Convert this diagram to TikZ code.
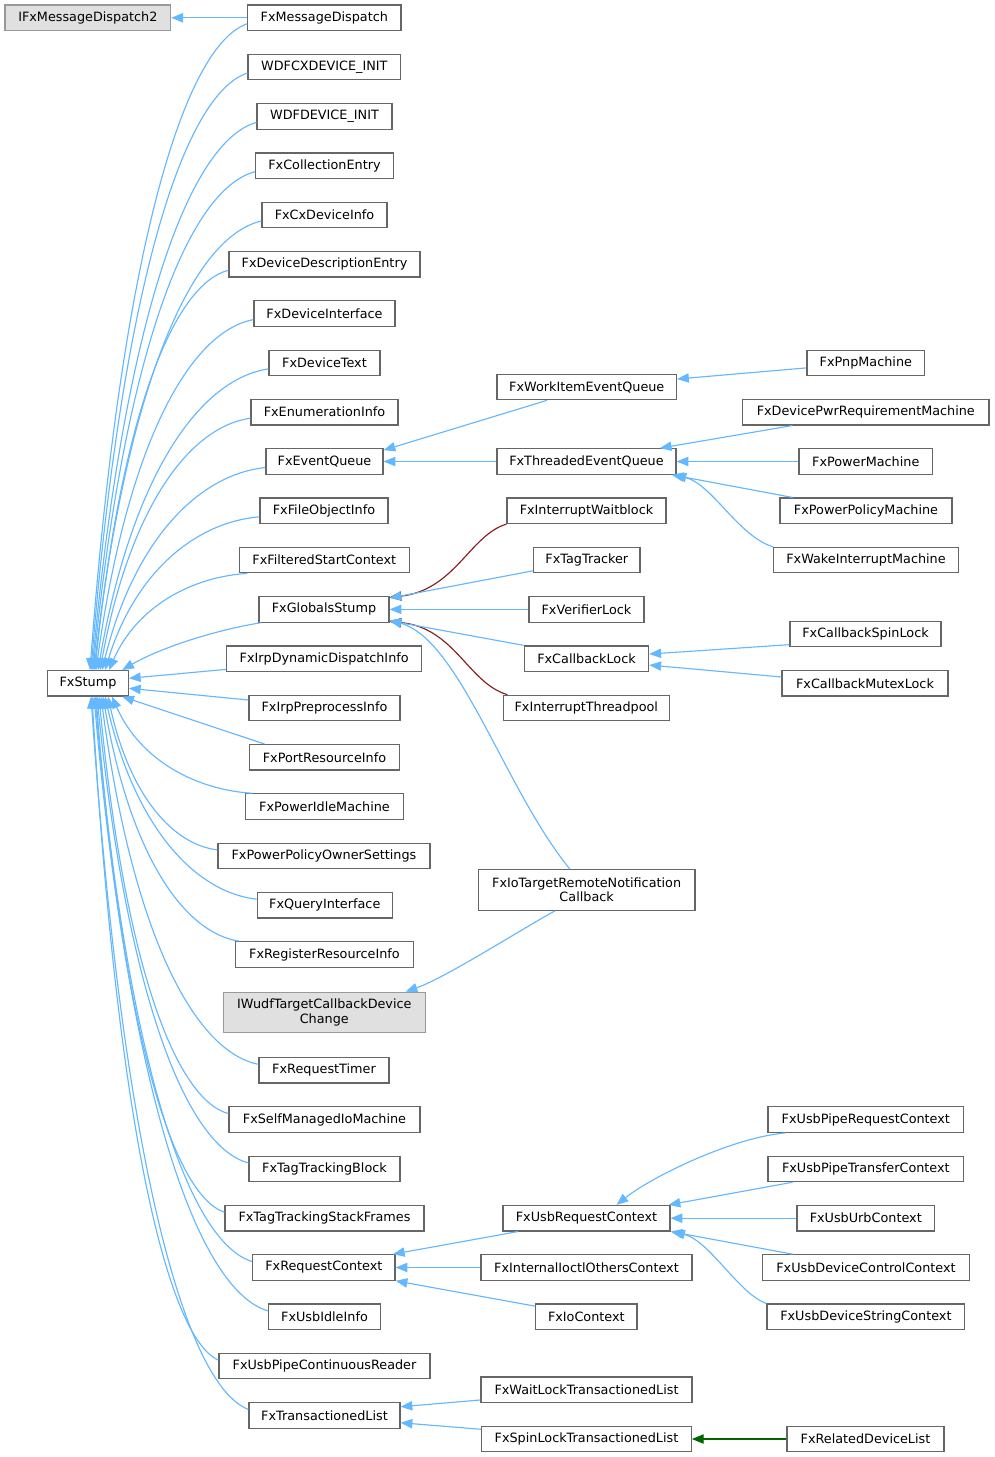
\documentclass[tikz,border=0pt]{standalone}
\usepackage{fontspec}
\setmainfont{DejaVu Sans}
\usetikzlibrary{arrows.meta}
\definecolor{edgeblue}{HTML}{63B8FF}
\definecolor{edgered}{HTML}{8B1A1A}
\definecolor{edgegreen}{HTML}{006400}
\definecolor{boxline}{HTML}{666666}
\definecolor{extline}{HTML}{999999}
\definecolor{extfill}{HTML}{E0E0E0}
\tikzset{
  box/.style={draw=boxline, fill=white, line width=0.9pt, minimum height=19.1pt, inner sep=0pt,
    font=\fontsize{9.6}{10.7}\selectfont, align=center},
  extbox/.style={box, draw=extline, fill=extfill},
  tall/.style={minimum height=30.3pt},
  inh/.style={draw=edgeblue, line width=0.85pt, -{Triangle[length=8.8pt,width=7pt]}},
  priv/.style={inh, draw=edgered},
  prot/.style={inh, draw=edgegreen},
}
\newcommand\bx[6][]{\node[box,#1,minimum width={(#4-#3)*0.75pt}] (#2) at ({(#3+#4)/2},#5) {#6};}
% edge from a child above FxStump to the top of FxStump
\newcommand\upE[4]{\draw[inh] (#1) .. controls +({-0.4*#3},{0.034*#4}) and +({0.2*#3},{-0.65*#4}) .. ([xshift={#2*0.75pt}]FxStump.north);}
% edge from a child below FxStump to the bottom of FxStump
\newcommand\dnE[4]{\draw[inh] (#1) .. controls +({-0.4*#3},{-0.034*#4}) and +({0.2*#3},{0.65*#4}) .. ([xshift={#2*0.75pt}]FxStump.south);}
\begin{document}
\begin{tikzpicture}[x=0.75pt,y=-0.75pt]
\fill[white] (0,0) rectangle (995,1457);
\useasboundingbox (0,0) rectangle (995,1457);

% column 1
\bx[extbox]{IFxMD2}{5}{170.7}{17.8}{IFxMessageDispatch2}
\bx{FxStump}{47.7}{128.3}{683.3}{FxStump}

% column 2
\bx{MD}{247.7}{401}{17.8}{FxMessageDispatch}
\bx{WDFCX}{248}{400.7}{67.1}{WDFCXDEVICE\_INIT}
\bx{WDFD}{257}{392}{116.4}{WDFDEVICE\_INIT}
\bx{CollE}{255.7}{393.3}{165.7}{FxCollectionEntry}
\bx{CxDI}{262}{387}{215}{FxCxDeviceInfo}
\bx{DDE}{229}{420}{264.3}{FxDeviceDescriptionEntry}
\bx{DevIf}{254}{395}{313.6}{FxDeviceInterface}
\bx{DevT}{269}{380}{362.9}{FxDeviceText}
\bx{EnumI}{251}{398}{412.2}{FxEnumerationInfo}
\bx{EvQ}{266}{383}{461.5}{FxEventQueue}
\bx{FOI}{260}{388}{510.8}{FxFileObjectInfo}
\bx{FSC}{239.3}{409.3}{560.1}{FxFilteredStartContext}
\bx{GS}{259}{389}{609.4}{FxGlobalsStump}
\bx{IrpDD}{226.7}{421.7}{658.7}{FxIrpDynamicDispatchInfo}
\bx{IrpPI}{249}{400}{708}{FxIrpPreprocessInfo}
\bx{PortRI}{249.7}{399.3}{757.3}{FxPortResourceInfo}
\bx{PIM}{245.7}{403.3}{806.6}{FxPowerIdleMachine}
\bx{PPOS}{218}{430}{855.9}{FxPowerPolicyOwnerSettings}
\bx{QI}{257.3}{392.3}{905.2}{FxQueryInterface}
\bx{RRI}{235.7}{413.3}{954.5}{FxRegisterResourceInfo}
\bx[extbox,tall]{IWudf}{223.3}{425.3}{1012.4}{IWudfTargetCallbackDevice\\Change}
\bx{RT}{259}{389}{1070.3}{FxRequestTimer}
\bx{SMIM}{229}{420}{1119.6}{FxSelfManagedIoMachine}
\bx{TTB}{249}{400}{1168.9}{FxTagTrackingBlock}
\bx{TTSF}{225}{424}{1218.2}{FxTagTrackingStackFrames}
\bx{RC}{252.7}{395}{1267.5}{FxRequestContext}
\bx{UIdle}{268.3}{380.7}{1316.8}{FxUsbIdleInfo}
\bx{UPCR}{219}{430}{1366.1}{FxUsbPipeContinuousReader}
\bx{TL}{249}{400}{1415.4}{FxTransactionedList}

% column 3
\bx{WIEQ}{497}{676.5}{387}{FxWorkItemEventQueue}
\bx{TEQ}{497}{676}{461.5}{FxThreadedEventQueue}
\bx{IWB}{507}{666}{510.8}{FxInterruptWaitblock}
\bx{TagT}{533.7}{640}{560.1}{FxTagTracker}
\bx{VL}{529}{644}{609.4}{FxVerifierLock}
\bx{CBL}{524.3}{648.7}{658.7}{FxCallbackLock}
\bx{ITP}{503.3}{669.3}{708}{FxInterruptThreadpool}
\bx[tall]{IoTRN}{478.3}{695}{890}{FxIoTargetRemoteNotification\\Callback}
\bx{URC}{503}{670}{1218.2}{FxUsbRequestContext}
\bx{IIOC}{481}{692}{1267.5}{FxInternalIoctlOthersContext}
\bx{IoC}{535.7}{637}{1316.8}{FxIoContext}
\bx{WLTL}{481}{692}{1389.7}{FxWaitLockTransactionedList}
\bx{SLTL}{481.7}{691.3}{1439}{FxSpinLockTransactionedList}

% column 4
\bx{Pnp}{807}{924.7}{362.9}{FxPnpMachine}
\bx{DPRM}{742.6}{989}{412.2}{FxDevicePwrRequirementMachine}
\bx{PM}{799}{932.5}{461.5}{FxPowerMachine}
\bx{PPM}{780}{952}{510.8}{FxPowerPolicyMachine}
\bx{WIM}{773.8}{958.2}{560.1}{FxWakeInterruptMachine}
\bx{CBSL}{790}{941}{634}{FxCallbackSpinLock}
\bx{CBML}{782}{948}{683.3}{FxCallbackMutexLock}
\bx{UPReq}{768}{963.7}{1119.6}{FxUsbPipeRequestContext}
\bx{UPTr}{768}{963.7}{1168.9}{FxUsbPipeTransferContext}
\bx{Urb}{797}{934.5}{1218.2}{FxUsbUrbContext}
\bx{UDCC}{762.5}{969.5}{1267.5}{FxUsbDeviceControlContext}
\bx{UDSC}{767}{964.8}{1316.8}{FxUsbDeviceStringContext}
\bx{RDL}{787}{944}{1439}{FxRelatedDeviceList}

% ---- edges ----
% private (red) first
\draw[priv] (IWB.south west) .. controls (470,535) and (455,590) .. ([yshift=-1pt]GS.north east);
\draw[priv] ([xshift=3.5pt]ITP.north west) .. controls (468,683) and (455,628) .. ([yshift=1pt]GS.south east);

\draw[inh] (MD.west) -- (IFxMD2.east);

% children above FxStump
\upE{[yshift=-4.5pt]MD.west}{2}{157.7}{646.7}
\upE{[yshift=-4.5pt]WDFCX.west}{3}{157}{597.7}
\upE{[yshift=-4.5pt]WDFD.west}{4}{165}{548.3}
\upE{[yshift=-4.5pt]CollE.west}{5}{163}{499}
\upE{[yshift=-4.5pt]CxDI.west}{6}{168}{449.7}
\upE{[yshift=-4.5pt]DDE.west}{7}{134}{400.4}
\upE{[yshift=-4.5pt]DevIf.west}{8}{158}{351.1}
\upE{[yshift=-4.5pt]DevT.west}{10}{171}{301.8}
\upE{[yshift=-4.5pt]EnumI.west}{12}{151}{252.5}
\upE{[yshift=-4.5pt]EvQ.west}{14}{164}{203.2}
\upE{[yshift=-4.5pt]FOI.west}{17}{155}{153.9}
\upE{[xshift=6.5pt]FSC.south west}{21}{139}{97.5}
\draw[inh] ([xshift=2pt]GS.south west) .. controls (215,630) and (160,648) .. ([xshift=-5pt]FxStump.north east);

% children on the right of FxStump
\draw[inh] ([yshift=-8pt]IrpDD.west) -- ([yshift=3.75pt]FxStump.east);
\draw[inh] ([yshift=6pt]IrpPI.west) -- ([yshift=-3.75pt]FxStump.east);
\draw[inh] ([xshift=11.5pt]PortRI.north west) -- ([xshift=-5pt]FxStump.south east);

% children below FxStump
\dnE{[xshift=5.5pt]PIM.north west}{24}{141}{97.9}
\dnE{[yshift=4.5pt]PPOS.west}{20}{110}{153.9}
\dnE{[yshift=4.5pt]QI.west}{17}{152.3}{203.2}
\dnE{[xshift=3pt]RRI.north west}{15}{137}{245.7}
\dnE{[yshift=4.5pt]RT.west}{13}{158}{368.3}
\dnE{[yshift=4.5pt]SMIM.west}{11}{130}{417.6}
\dnE{[yshift=4.5pt]TTB.west}{9}{152}{466.9}
\dnE{[yshift=4.5pt]TTSF.west}{8}{129}{516.2}
\dnE{[yshift=4.5pt]RC.west}{7}{157.7}{565.5}
\dnE{[yshift=4.5pt]UIdle.west}{6}{174.3}{614.8}
\dnE{[yshift=4.5pt]UPCR.west}{4}{127}{664.1}
\dnE{[yshift=4.5pt]TL.west}{3}{158}{713.4}

% FxGlobalsStump children
\draw[inh] ([yshift=-8pt]TagT.west) -- ([yshift=-1.5pt]GS.north east);
\draw[inh] (VL.west) -- (GS.east);
\draw[inh] (CBL.north west) -- ([yshift=1.5pt]GS.south east);
\draw[inh] ([xshift=-12.5pt]IoTRN.north) .. controls (505,790) and (460,640) .. ([yshift=2pt]GS.south east);
\draw[inh] ([xshift=-23.7pt]IoTRN.south) .. controls (515,933) and (445,978) .. ([xshift=61pt]IWudf.north);

% FxEventQueue family
\draw[inh] ([xshift=-29.8pt]WIEQ.south) -- ([yshift=-1.5pt]EvQ.north east);
\draw[inh] (TEQ.west) -- (EvQ.east);
\draw[inh] ([yshift=-3.75pt]Pnp.west) -- ([yshift=6pt]WIEQ.east);
\draw[inh] ([xshift=-55pt]DPRM.south) -- ([xshift=55pt]TEQ.north);
\draw[inh] (PM.west) -- (TEQ.east);
\draw[inh] ([xshift=-55pt]PPM.north) -- ([xshift=64pt]TEQ.south);
\draw[inh] (WIM.north west) .. controls (739,537) and (712,484) .. ([xshift=66pt]TEQ.south);

% FxCallbackLock family
\draw[inh] ([yshift=-8pt]CBSL.west) -- ([yshift=3.5pt]CBL.east);
\draw[inh] ([yshift=4.75pt]CBML.west) -- ([yshift=-4.75pt]CBL.east);

% FxRequestContext family
\draw[inh] ([xshift=-51.4pt]URC.south) -- ([xshift=-2pt]RC.north east);
\draw[inh] (IIOC.west) -- (RC.east);
\draw[inh] ([yshift=-2pt]IoC.north west) -- (RC.south east);

% FxUsbRequestContext family
\draw[inh] ([xshift=-60.6pt]UPReq.south) .. controls (730,1138) and (650,1178) .. ([xshift=22.5pt]URC.north);
\draw[inh] ([xshift=-55pt]UPTr.south) -- ([xshift=-1.5pt]URC.north east);
\draw[inh] (Urb.west) -- (URC.east);
\draw[inh] ([xshift=-55pt]UDCC.north) -- (URC.south east);
\draw[inh] (UDSC.north west) .. controls (739,1294) and (710,1241) .. ([xshift=65pt]URC.south);

% FxTransactionedList family
\draw[inh] ([yshift=-7.7pt]WLTL.west) -- ([yshift=6.5pt]TL.east);
\draw[inh] ([yshift=7.3pt]SLTL.west) -- ([yshift=-5.5pt]TL.east);
\draw[prot] (RDL.west) -- (SLTL.east);
\end{tikzpicture}
\end{document}
